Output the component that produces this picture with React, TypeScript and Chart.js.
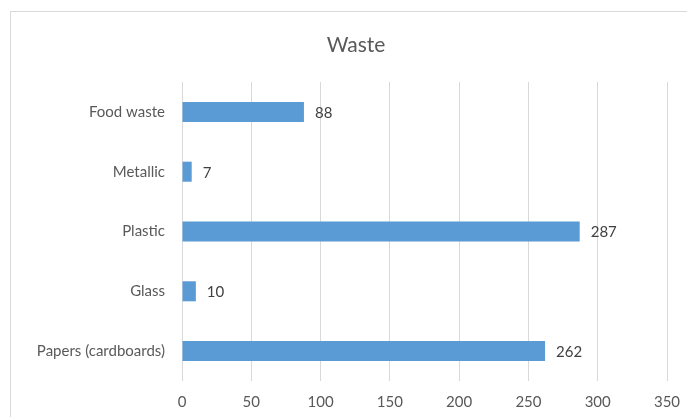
import { useEffect, useRef } from "react";
import { Chart, registerables } from "chart.js";

Chart.register(...registerables);

const chartTitle = "Waste";
const categories = ["Food waste", "Metallic", "Plastic", "Glass", "Papers (cardboards)"];
const wasteCounts = [88, 7, 287, 10, 262];
const axisMin = 0;
const axisMax = 350;
const axisStep = 50;

const FONT = "Lato, 'Open Sans', sans-serif";
const TEXT = "#595959";

const framePlugin = {
  id: "frame",
  beforeDraw(chart: any) {
    const { ctx, width, height } = chart;
    ctx.save();
    ctx.fillStyle = "#ffffff";
    ctx.fillRect(0, 0, width, height);
    ctx.strokeStyle = "#d9d9d9";
    ctx.lineWidth = 1;
    ctx.strokeRect(10.5, 11.5, width + 40, height + 40);
    ctx.restore();
  },
};

const titlePlugin = {
  id: "topTitle",
  afterDraw(chart: any) {
    const { ctx } = chart;
    ctx.save();
    ctx.font = `21px ${FONT}`;
    ctx.fillStyle = TEXT;
    ctx.textAlign = "center";
    ctx.textBaseline = "middle";
    ctx.fillText(chartTitle, 356, 45);
    ctx.restore();
  },
};

const valueLabelPlugin = {
  id: "valueLabels",
  afterDatasetsDraw(chart: any) {
    const { ctx } = chart;
    const meta = chart.getDatasetMeta(0);
    const values = chart.data.datasets[0].data as number[];
    ctx.save();
    ctx.font = `15px ${FONT}`;
    ctx.fillStyle = "#404040";
    ctx.textAlign = "left";
    ctx.textBaseline = "middle";
    meta.data.forEach((bar: any, i: number) => {
      ctx.fillText(String(values[i]), bar.x + 11, bar.y + 1);
    });
    ctx.restore();
  },
};

export default function App() {
  const ref = useRef<HTMLCanvasElement>(null);

  useEffect(() => {
    if (!ref.current) return;
    const chart = new Chart(ref.current, {
      type: "bar",
      data: {
        labels: categories,
        datasets: [
          {
            label: chartTitle,
            data: wasteCounts,
            backgroundColor: "#5b9bd5",
            borderWidth: 0,
            barPercentage: 0.335,
            categoryPercentage: 1,
          },
        ],
      },
      options: {
        indexAxis: "y",
        responsive: false,
        animation: false,
        devicePixelRatio: 1,
        layout: { padding: { left: 0, right: 20, top: 82, bottom: 0 } },
        plugins: {
          legend: { display: false },
          title: { display: false },
          tooltip: { enabled: false },
        },
        scales: {
          y: {
            grid: { display: false, drawTicks: false },
            border: { display: false },
            ticks: {
              color: TEXT,
              font: { family: FONT, size: 15 },
              padding: 17,
            },
            afterFit(scale: any) {
              scale.width = 182;
              scale.paddingTop = 0;
              scale.paddingBottom = 0;
            },
          },
          x: {
            min: axisMin,
            max: axisMax,
            grid: { color: "#d9d9d9", lineWidth: 1, drawTicks: false },
            border: { display: false },
            ticks: {
              stepSize: axisStep,
              color: TEXT,
              font: { family: FONT, size: 15 },
              padding: 12,
              maxRotation: 0,
            },
            afterFit(scale: any) {
              scale.height = 36;
              scale.paddingLeft = 0;
              scale.paddingRight = 0;
            },
          },
        },
      },
      plugins: [framePlugin, valueLabelPlugin, titlePlugin],
    });
    return () => chart.destroy();
  }, []);

  return (
    <div style={{ position: "fixed", left: 0, top: 0, width: 687, height: 417 }}>
      <canvas ref={ref} width={687} height={417} />
    </div>
  );
}
